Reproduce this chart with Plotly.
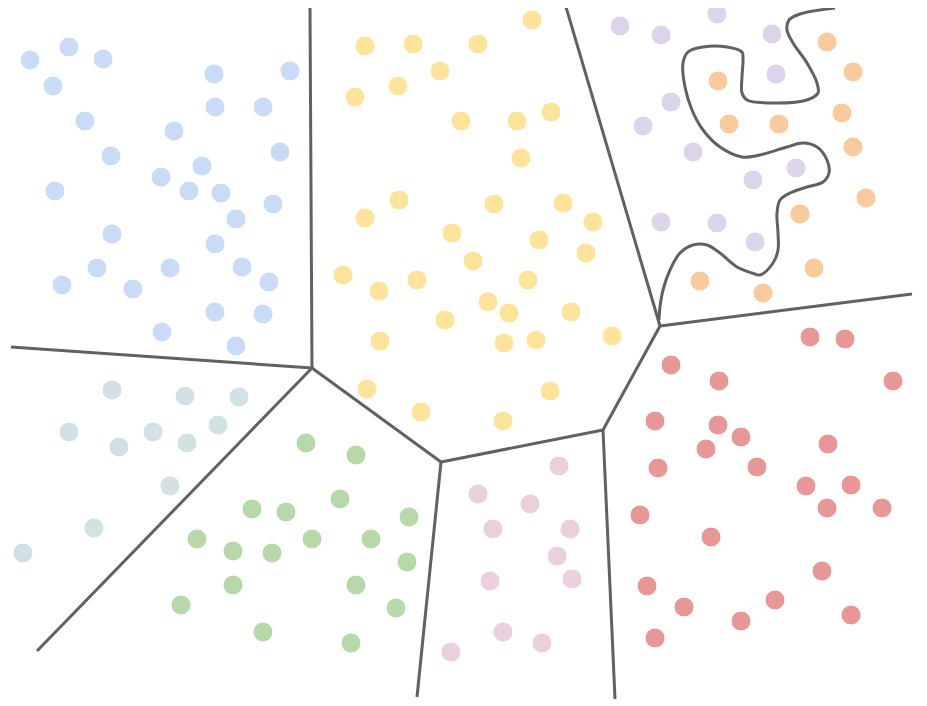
import plotly.graph_objects as go

# point clusters (x, y in picture coordinates, y grows downward)
blue_x = [30, 69, 103, 53, 214, 290, 215, 263, 85, 174, 280, 111, 202, 161, 55, 189, 221, 273, 236, 112, 215, 97, 170, 242, 62, 133, 269, 215, 263, 162, 236]
blue_y = [60, 47, 59, 86, 74, 71, 107, 107, 121, 131, 152, 156, 166, 177, 191, 191, 193, 204, 219, 234, 244, 268, 268, 267, 285, 289, 282, 312, 314, 332, 346]

yellow_x = [532, 365, 413, 478, 440, 355, 398, 461, 517, 551, 521, 399, 365, 494, 563, 593, 452, 539, 586, 473, 343, 379, 417, 528, 488, 509, 571, 445, 380, 504, 536, 612, 367, 421, 503, 550]
yellow_y = [20, 46, 44, 44, 71, 97, 86, 121, 121, 112, 158, 200, 218, 204, 203, 222, 233, 240, 253, 261, 275, 291, 280, 280, 302, 313, 312, 320, 341, 343, 340, 336, 389, 412, 421, 391]

purple_x = [620, 661, 717, 772, 776, 671, 643, 693, 796, 753, 661, 717, 755]
purple_y = [26, 35, 14, 34, 74, 102, 126, 152, 168, 180, 222, 223, 242]

orange_x = [827, 853, 718, 842, 729, 779, 853, 866, 800, 814, 700, 763]
orange_y = [42, 72, 81, 113, 124, 124, 147, 198, 214, 268, 281, 293]

red_x = [810, 845, 671, 719, 893, 655, 718, 741, 706, 828, 658, 757, 806, 851, 827, 882, 640, 711, 822, 647, 684, 775, 741, 851, 655]
red_y = [337, 339, 365, 381, 381, 421, 425, 437, 449, 444, 468, 467, 486, 485, 508, 508, 515, 537, 571, 586, 607, 600, 621, 615, 638]

teal_x = [112, 185, 239, 69, 153, 119, 187, 218, 170, 94, 23]
teal_y = [390, 396, 397, 432, 432, 447, 443, 425, 486, 528, 553]

green_x = [306, 356, 340, 252, 286, 409, 197, 312, 371, 233, 272, 407, 233, 356, 181, 396, 263, 351]
green_y = [443, 455, 499, 509, 512, 517, 539, 539, 539, 551, 553, 562, 585, 585, 605, 608, 632, 643]

pink_x = [559, 478, 530, 493, 570, 557, 490, 572, 503, 542, 451]
pink_y = [466, 494, 504, 529, 529, 556, 581, 579, 632, 643, 652]

# cell boundaries
edges = [
    ([310, 312], [8, 368]),
    ([11, 312], [347, 368]),
    ([312, 37], [368, 651]),
    ([312, 441], [368, 462]),
    ([441, 417], [462, 697]),
    ([441, 603], [462, 430]),
    ([603, 615], [430, 699]),
    ([603, 660], [430, 326]),
    ([660, 566], [326, 7]),
    ([660, 912], [326, 294]),
]

curve_x = [835, 800, 789, 787, 793, 807, 817, 818, 807, 777, 747, 742, 742, 743, 742, 727, 703, 688, 683, 685, 692, 703, 720, 742, 760, 787, 803, 817, 827, 829, 823, 807, 790, 780, 777, 778, 778, 773, 760, 752, 737, 720, 707, 693, 680, 670, 663, 660, 659]
curve_y = [8, 14, 20, 30, 43, 63, 83, 93, 100, 103, 100, 93, 77, 60, 52, 47, 47, 52, 63, 87, 110, 130, 147, 157, 155, 147, 143, 147, 160, 173, 182, 187, 193, 200, 213, 233, 250, 263, 275, 273, 267, 253, 245, 245, 253, 270, 290, 307, 320]

clusters = [
    (blue_x, blue_y, "#c9dbf6"),
    (yellow_x, yellow_y, "#fee49b"),
    (purple_x, purple_y, "#dcd4ea"),
    (orange_x, orange_y, "#f8ca9c"),
    (red_x, red_y, "#e89797"),
    (teal_x, teal_y, "#d2e1e4"),
    (green_x, green_y, "#b7d9a9"),
    (pink_x, pink_y, "#ead0dc"),
]

LINE_COLOR = "#616161"
PAGE_OFFSET = 8  # default body margin of the html page

fig = go.Figure()
for xs, ys in edges:
    fig.add_trace(go.Scatter(x=xs, y=ys, mode="lines", cliponaxis=False,
                             line={"color": LINE_COLOR, "width": 3}))
fig.add_trace(go.Scatter(x=curve_x, y=curve_y, mode="lines", cliponaxis=False,
                         line={"color": LINE_COLOR, "width": 3, "shape": "spline", "smoothing": 1.0}))
for xs, ys, color in clusters:
    fig.add_trace(go.Scatter(x=xs, y=ys, mode="markers", cliponaxis=False,
                             marker={"size": 20, "color": color,
                                     "line": {"color": "white", "width": 1}}))

fig.update_layout(
    width=927 - PAGE_OFFSET,
    height=706 - PAGE_OFFSET,
    margin={"l": 0, "r": 0, "t": 0, "b": 0},
    paper_bgcolor="white",
    plot_bgcolor="white",
    showlegend=False,
)
fig.update_xaxes(range=[PAGE_OFFSET, 927], visible=False)
fig.update_yaxes(range=[706, PAGE_OFFSET], visible=False)

fig.write_html("out.html")
